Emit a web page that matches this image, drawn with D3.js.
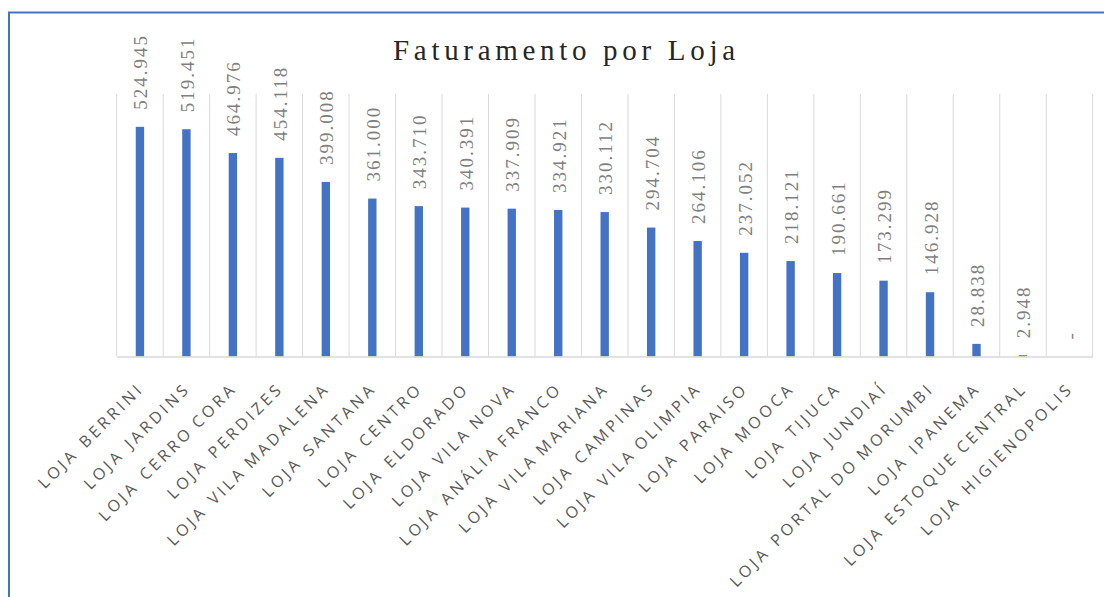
<!DOCTYPE html>
<html>
<head>
<meta charset="utf-8">
<script src="https://cdn.jsdelivr.net/npm/d3@7"></script>
<style>
  html, body { margin: 0; padding: 0; background: #fff; }
  svg { display: block; }
</style>
</head>
<body>
<svg id="chart" width="1104" height="597"></svg>
<script>
// Store names (category axis) and revenue per store
const lojas = [
  "LOJA BERRINI", "LOJA JARDINS", "LOJA CERRO CORA", "LOJA PERDIZES",
  "LOJA VILA MADALENA", "LOJA SANTANA", "LOJA CENTRO", "LOJA ELDORADO",
  "LOJA VILA NOVA", "LOJA ANÁLIA FRANCO", "LOJA VILA MARIANA", "LOJA CAMPINAS",
  "LOJA VILA OLIMPIA", "LOJA PARAISO", "LOJA MOOCA", "LOJA TIJUCA",
  "LOJA JUNDIAÍ", "LOJA PORTAL DO MORUMBI", "LOJA IPANEMA",
  "LOJA ESTOQUE CENTRAL", "LOJA HIGIENOPOLIS"
];
const faturamento = [
  524945, 519451, 464976, 454118, 399008, 361000, 343710, 340391, 337909,
  334921, 330112, 294704, 264106, 237052, 218121, 190661, 173299, 146928,
  28838, 2948, 0
];
const yDomain = [0, 600000];
const titulo = "Faturamento por Loja";

const data = lojas.map((loja, i) => ({ loja, valor: faturamento[i] }));

// pt-BR number format: "." as thousands separator, zero shown as a dash
const ptBR = d3.formatLocale({ decimal: ",", thousands: ".", grouping: [3], currency: ["R$", ""] });
const fmt = v => v === 0 ? "-" : ptBR.format(",d")(v);

const svg = d3.select("#chart");
const plot = { left: 116.7, right: 1092.7, top: 94, bottom: 356.5 };

const x = d3.scaleBand()
  .domain(lojas)
  .range([plot.left, plot.right])
  .padding(0);

const y = d3.scaleLinear()
  .domain(yDomain)
  .range([plot.bottom, plot.top]);

// Chart frame
svg.append("rect")
  .attr("x", 9).attr("y", 12.5)
  .attr("width", 1120).attr("height", 620)
  .attr("fill", "none")
  .attr("stroke", "#4472C4")
  .attr("stroke-width", 2);

// Title
svg.append("text")
  .attr("x", 564).attr("y", 60)
  .attr("text-anchor", "middle")
  .attr("font-family", "'Liberation Serif', serif")
  .attr("font-size", 29)
  .attr("fill", "#262626")
  .attr("textLength", 342)
  .attr("lengthAdjust", "spacing")
  .text(titulo);

// Vertical category gridlines at band edges
const edges = lojas.map(d => x(d)).concat([x(lojas[lojas.length - 1]) + x.bandwidth()]);
svg.append("g")
  .selectAll("line")
  .data(edges)
  .join("line")
  .attr("x1", d => d).attr("x2", d => d)
  .attr("y1", plot.top).attr("y2", plot.bottom)
  .attr("stroke", "#d9d9d9")
  .attr("stroke-width", 1);

// Bars
const barW = x.bandwidth() * 0.18;
svg.append("g")
  .selectAll("rect")
  .data(data)
  .join("rect")
  .attr("x", d => x(d.loja) + x.bandwidth() / 2 - barW / 2)
  .attr("y", d => y(d.valor))
  .attr("width", barW)
  .attr("height", d => y(0) - y(d.valor))
  .attr("fill", "#4472C4");

// Category axis
const xAxis = d3.axisBottom(x).tickSize(0).tickPadding(0);
const gx = svg.append("g")
  .attr("transform", `translate(0,${plot.bottom})`)
  .call(xAxis);
gx.select(".domain")
  .attr("stroke", "#d9d9d9")
  .attr("stroke-width", 1.5);

// Rotated store names: "LOJA" prefix set apart from the store name
gx.selectAll(".tick text")
  .attr("font-family", "'Open Sans', sans-serif")
  .attr("font-size", 16)
  .attr("fill", "#595959")
  .attr("letter-spacing", "3.4px")
  .attr("word-spacing", "-2px")
  .attr("text-anchor", "end")
  .attr("dy", 0)
  .attr("transform", "translate(5,33) rotate(-45)")
  .each(function (d) {
    const t = d3.select(this).text("");
    const i = d.indexOf(" ");
    t.append("tspan").text(d.slice(0, i));
    t.append("tspan").attr("dx", 9).text(d.slice(i + 1));
  });

// Value labels above bars
svg.append("g")
  .selectAll("text")
  .data(data)
  .join("text")
  .attr("transform", d => `translate(${x(d.loja) + x.bandwidth() / 2 + 7.5},${y(d.valor) - 17}) rotate(-90)`)
  .attr("text-anchor", "start")
  .attr("font-family", "'Liberation Serif', serif")
  .attr("font-size", 19)
  .attr("letter-spacing", "2px")
  .attr("fill", "#7f7f7f")
  .text(d => fmt(d.valor));
</script>
</body>
</html>
